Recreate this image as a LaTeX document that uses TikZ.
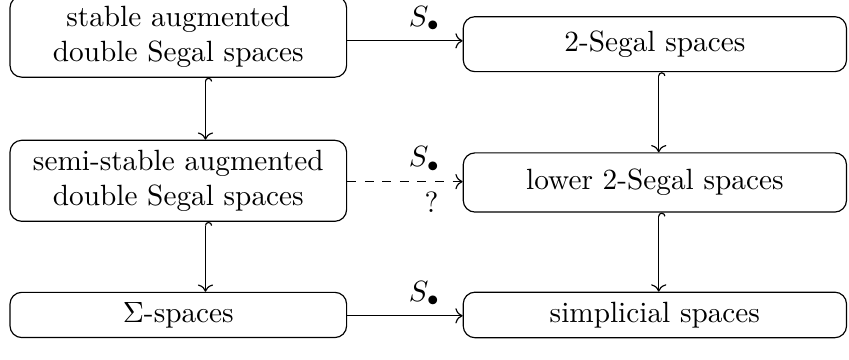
\documentclass[tikz,border=0pt]{standalone}
\usetikzlibrary{arrows.meta}

\begin{document}
\begin{tikzpicture}

        \useasboundingbox (0,0) rectangle (10.19,-4.32);

        \begin{scope}[every node/.style={draw,rounded corners,align=center}]
          \node[minimum width=4.04cm,minimum height=0.80cm] (stable) at (2.14,-0.44)
            {stable augmented\\double Segal spaces};
          \node[minimum width=4.60cm,minimum height=0.66cm] (seg)    at (7.86,-0.53) {2-Segal spaces};
          \node[minimum width=4.04cm,minimum height=0.80cm] (semi)   at (2.14,-2.17)
            {semi-stable augmented\\double Segal spaces};
          \node[minimum width=4.60cm,minimum height=0.71cm] (lower)  at (7.86,-2.19) {lower 2-Segal spaces};
          \node[minimum width=4.04cm,minimum height=0.53cm] (sigma)  at (2.14,-3.78) {$\Sigma$-spaces};
          \node[minimum width=4.60cm,minimum height=0.53cm] (simp)   at (7.86,-3.78) {simplicial spaces};
        \end{scope}

        \coordinate (lc) at (2.466,0);
        \coordinate (rc) at (7.906,0);
        \coordinate (r1) at (0,-0.49);
        \coordinate (r2) at (0,-2.18);
        \coordinate (r3) at (0,-3.79);

        \begin{scope}[every node/.style={font=\normalsize}]
          \path[->] (stable.east |- r1) edge node[above,pos=0.67] {$S_\bullet$} (seg.west |- r1);
          \path[->] (semi.east |- r2) edge[dashed] node[above,pos=0.67] {$S_\bullet$}
                                              node[below,pos=0.73] {?} (lower.west |- r2);
          \path[->] (sigma.east |- r3) edge node[above,pos=0.67] {$S_\bullet$} (simp.west |- r3);

          \path[{Hooks[right]}->] (stable.south -| lc) edge (semi.north -| lc);
          \path[{Hooks[right]}->] (semi.south -| lc)   edge (sigma.north -| lc);
          \path[{Hooks[right]}->] (seg.south -| rc)    edge (lower.north -| rc);
          \path[{Hooks[right]}->] (lower.south -| rc)  edge (simp.north -| rc);
        \end{scope}

\end{tikzpicture}
\end{document}
